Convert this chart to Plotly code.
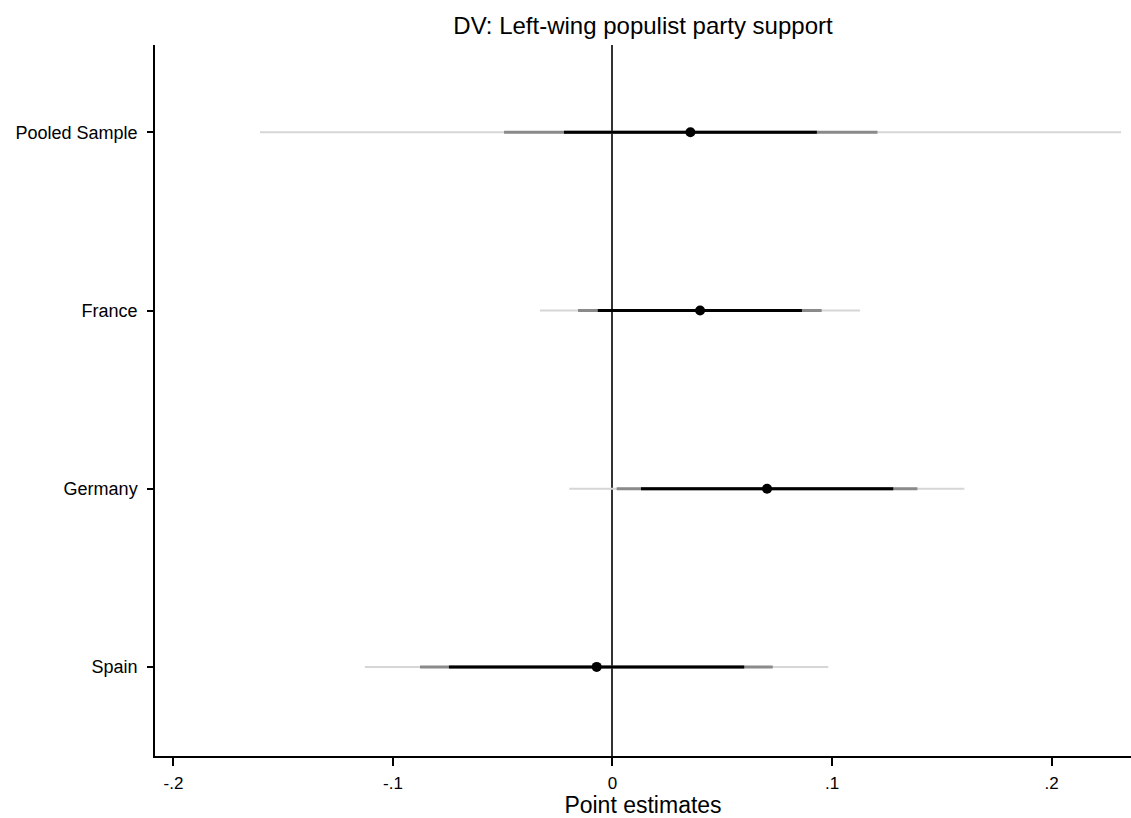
import plotly.graph_objects as go

categories = ["Pooled Sample", "France", "Germany", "Spain"]
point = [0.0355, 0.0399, 0.0704, -0.0072]
ci_light_lo = [-0.1606, -0.0330, -0.0197, -0.1128]
ci_light_hi = [0.2317, 0.1128, 0.1603, 0.0983]
ci_mid_lo = [-0.0494, -0.0157, 0.0019, -0.0877]
ci_mid_hi = [0.1207, 0.0953, 0.1389, 0.0730]
ci_dark_lo = [-0.0221, -0.0067, 0.0130, -0.0745]
ci_dark_hi = [0.0931, 0.0863, 0.1279, 0.0600]
xticks = [-0.2, -0.1, 0, 0.1, 0.2]
xticklabels = ["-.2", "-.1", "0", ".1", ".2"]

ypos = list(range(1, len(categories) + 1))


def segs(lo, hi):
    xs, ys = [], []
    for a, b, y in zip(lo, hi, ypos):
        xs += [a, b, None]
        ys += [y, y, None]
    return xs, ys


fig = go.Figure()
for lo, hi, col, w in [
    (ci_light_lo, ci_light_hi, "#d6d6d6", 2),
    (ci_mid_lo, ci_mid_hi, "#8a8a8a", 3),
    (ci_dark_lo, ci_dark_hi, "#000000", 3),
]:
    xs, ys = segs(lo, hi)
    fig.add_trace(go.Scatter(x=xs, y=ys, mode="lines",
                             line=dict(color=col, width=w),
                             hoverinfo="skip", showlegend=False))

fig.add_trace(go.Scatter(x=point, y=ypos, mode="markers",
                         marker=dict(color="black", size=10),
                         showlegend=False))

fig.update_layout(
    width=1131, height=818,
    margin=dict(l=155, r=0, t=45, b=62),
    paper_bgcolor="white", plot_bgcolor="white",
    font=dict(family="Liberation Sans, Arial, sans-serif", color="black", size=17),
    title=dict(text="DV: Left-wing populist party support", x=0.5, xref="paper",
               xanchor="center",
               y=1 - 26 / 818, yref="container", yanchor="middle",
               font=dict(size=24, color="black")),
)
fig.update_xaxes(
    range=[-0.2084, 0.2362],
    tickvals=xticks, ticktext=xticklabels,
    ticks="outside", ticklen=8, tickwidth=1.5, tickcolor="black",
    showline=True, linecolor="black", linewidth=1.5,
    showgrid=False,
    zeroline=True, zerolinecolor="#333333", zerolinewidth=2,
    title=dict(text="Point estimates", font=dict(size=23), standoff=3),
    tickfont=dict(size=17),
    ticklabelstandoff=3,
)
fig.update_yaxes(
    range=[4.5, 0.51],
    tickvals=ypos, ticktext=categories,
    ticks="outside", ticklen=6, tickwidth=1.5, tickcolor="black",
    showline=True, linecolor="black", linewidth=1.5,
    showgrid=False, zeroline=False,
    tickfont=dict(size=18),
    ticklabelstandoff=6,
)

fig.write_html("out.html")
